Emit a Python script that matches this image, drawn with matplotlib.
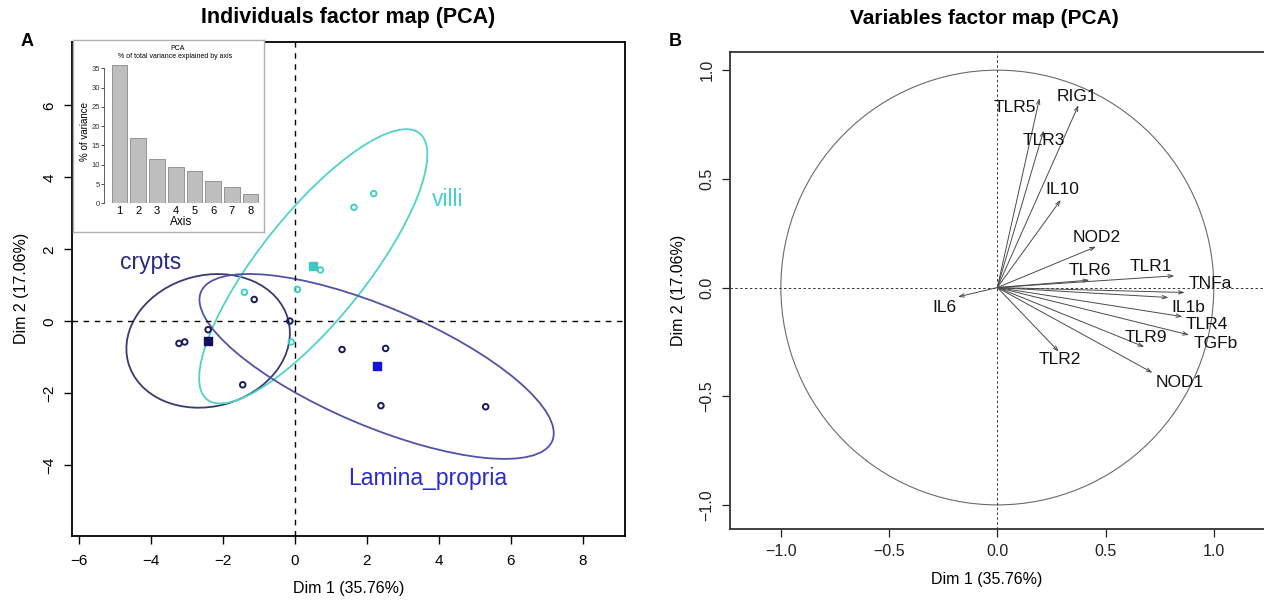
import matplotlib
matplotlib.use('Agg')
import matplotlib.pyplot as plt
from matplotlib.patches import Ellipse, Circle
import numpy as np

plt.rcParams['font.family'] = ['Liberation Sans', 'DejaVu Sans']

# ---------------- data: individuals factor map ----------------
crypts_x = [-3.22, -3.06, -2.41, -1.13, -1.45]
crypts_y = [-0.61, -0.57, -0.23, 0.61, -1.76]
villi_x = [-1.40, 0.07, -0.10, 0.71, 2.19, 1.64]
villi_y = [0.81, 0.89, -0.57, 1.43, 3.55, 3.17]
lamina_x = [-0.14, 1.31, 2.52, 2.39, 5.30]
lamina_y = [0.01, -0.78, -0.75, -2.34, -2.37]
group_names = ['crypts', 'villi', 'Lamina_propria']
centroid_x = [-2.41, 0.51, 2.27]
centroid_y = [-0.54, 1.53, -1.25]
ellipse_width = [4.6, 9.46, 10.6]
ellipse_height = [3.64, 2.96, 3.3]
ellipse_angle = [15, 51.4, -23]

# ---------------- data: scree inset ----------------
scree_axis = [1, 2, 3, 4, 5, 6, 7, 8]
scree_pct = [35.76, 17.06, 11.5, 9.4, 8.3, 5.9, 4.2, 2.3]

# ---------------- data: variables factor map ----------------
var_names = ['TLR5', 'RIG1', 'TLR3', 'IL10', 'NOD2', 'TLR6', 'TLR1', 'TNFa',
             'IL1b', 'TLR4', 'TGFb', 'TLR9', 'NOD1', 'TLR2', 'IL6']
var_dim1 = [0.195, 0.375, 0.214, 0.293, 0.456, 0.425, 0.818, 0.866,
            0.791, 0.855, 0.886, 0.679, 0.717, 0.284, -0.182]
var_dim2 = [0.871, 0.839, 0.722, 0.403, 0.188, 0.034, 0.054, -0.023,
            -0.046, -0.134, -0.218, -0.273, -0.392, -0.295, -0.043]

# label placement (layout only)
var_label_pos = {
    'TLR5': (0.082, 0.826), 'RIG1': (0.370, 0.881), 'TLR3': (0.217, 0.676),
    'IL10': (0.300, 0.450), 'NOD2': (0.460, 0.229), 'TLR6': (0.427, 0.079),
    'TLR1': (0.708, 0.098), 'TNFa': (0.982, 0.017), 'IL1b': (0.882, -0.092),
    'TLR4': (0.970, -0.172), 'TGFb': (1.009, -0.259), 'TLR9': (0.687, -0.232),
    'NOD1': (0.845, -0.435), 'TLR2': (0.289, -0.333), 'IL6': (-0.244, -0.090),
}
group_label_pos = [(-4.0, 1.65), (4.24, 3.40), (3.68, -4.36)]

# colours
pt_col = ['#1c1c5c', '#40d0c6', '#1c1c5c']
cen_col = ['#10105e', '#40c8bc', '#1414d8']
ell_col = ['#3a3a6c', '#50d2c8', '#5252a6']
txt_col = ['#2a2a7e', '#48d1cc', '#2a2ad2']

W, H = 1264, 603
fig = plt.figure(figsize=(W / 100, H / 100), dpi=100)

def fx(px):
    return px / W

def fy(py):
    return 1 - py / H

# ================= Left panel =================
L, R, T, B = 71.7, 625, 41.7, 536
ax1 = fig.add_axes([fx(L), fy(B), fx(R) - fx(L), fy(T) - fy(B)])
ax1.set_xlim(-6.2, 9.17)
ax1.set_ylim(-5.96, 7.77)
ax1.axhline(0, color='black', ls=(0, (4, 4)), lw=1.0)
ax1.axvline(0, color='black', ls=(0, (4, 4)), lw=1.0)

groups_x = [crypts_x, villi_x, lamina_x]
groups_y = [crypts_y, villi_y, lamina_y]
for i in range(3):
    ax1.add_patch(Ellipse((centroid_x[i], centroid_y[i]), ellipse_width[i],
                          ellipse_height[i], angle=ellipse_angle[i], fill=False,
                          ec=ell_col[i], lw=1.3))
    ax1.scatter(groups_x[i], groups_y[i], s=16, facecolors='none',
                edgecolors=pt_col[i], linewidths=1.4, zorder=3)
    ax1.scatter([centroid_x[i]], [centroid_y[i]], s=36, marker='s',
                color=cen_col[i], zorder=3)
    ax1.text(group_label_pos[i][0], group_label_pos[i][1], group_names[i],
             color=txt_col[i], fontsize=16.5, ha='center', va='center')

ax1.set_xticks([-6, -4, -2, 0, 2, 4, 6, 8])
ax1.set_yticks([-4, -2, 0, 2, 4, 6])
ax1.tick_params(direction='out', length=6, width=1, labelsize=11, pad=5)
ax1.tick_params(axis='x', pad=7)
for sp in ax1.spines.values():
    sp.set_linewidth(1.3)
ax1.set_xticklabels(['\u22126', '\u22124', '\u22122', '0', '2', '4', '6', '8'])
ax1.set_yticklabels(['\u22124', '\u22122', '0', '2', '4', '6'], rotation=90, va='center')
ax1.set_xlabel('Dim 1 (35.76%)', fontsize=11.5, labelpad=9)
ax1.set_ylabel('Dim 2 (17.06%)', fontsize=11.5, labelpad=10)
fig.text(fx(348), fy(18), 'Individuals factor map (PCA)', fontsize=15.5,
         fontweight='bold', ha='center', va='center')
fig.text(fx(27), fy(42), 'A', fontsize=13, fontweight='bold', ha='center', va='center')

# inset background box
bg = fig.add_axes([fx(73), fy(232), fx(264) - fx(73), fy(40) - fy(232)], zorder=5)
bg.set_xticks([]); bg.set_yticks([])
bg.set_facecolor('white')
for sp in bg.spines.values():
    sp.set_color('#b0b0b0'); sp.set_linewidth(1.0)

ins = fig.add_axes([fx(104), fy(203.3), fx(258.9) - fx(104), fy(60.6) - fy(203.3)], zorder=6)
ins.patch.set_alpha(0)
ins.bar(scree_axis, scree_pct, width=0.84, color='#bebebe', edgecolor='#8a8a8a', lw=0.6)
ins.set_xlim(0.17, 8.45)
ins.set_ylim(0, 37)
for s in ['top', 'right', 'bottom']:
    ins.spines[s].set_visible(False)
ins.spines['left'].set_bounds(0, 35)
ins.spines['left'].set_linewidth(0.6)
ins.spines['left'].set_color('#444444')
ins.set_yticks([0, 5, 10, 15, 20, 25, 30, 35])
ins.tick_params(axis='y', length=2, width=0.6, labelsize=5.5, pad=1, colors='#333333')
ins.set_xticks(scree_axis)
ins.tick_params(axis='x', length=0, labelsize=8, pad=2)
ins.set_xlabel('Axis', fontsize=8.5, labelpad=0)
ins.set_ylabel('% of variance', fontsize=7, labelpad=1)
fig.text(fx(178), fy(49), 'PCA', fontsize=5, ha='center', va='center', zorder=7)
fig.text(fx(175), fy(56), '% of total variance explained by axis', fontsize=5,
         ha='center', va='center', zorder=7)

# ================= Right panel =================
L2, R2, T2, B2 = 730, 1264, 51.7, 528.8
ax2 = fig.add_axes([fx(L2), fy(B2), fx(R2) - fx(L2), fy(T2) - fy(B2)])
ax2.set_xlim(-1.235, 1.232)
ax2.set_ylim(-1.11, 1.085)
ax2.add_patch(Circle((0, 0), 1.0, fill=False, ec='#6a6a6a', lw=0.8))
ax2.axhline(0, color='#333333', ls=(0, (2.5, 2.5)), lw=0.7)
ax2.axvline(0, color='#333333', ls=(0, (2.5, 2.5)), lw=0.7)
for name, x, y in zip(var_names, var_dim1, var_dim2):
    ax2.annotate('', xy=(x, y), xytext=(0, 0),
                 arrowprops=dict(arrowstyle='->,head_length=0.35,head_width=0.12',
                                 color='#4a4a4a', lw=0.7, shrinkA=0, shrinkB=0))
    lx, ly = var_label_pos[name]
    ax2.text(lx, ly, name, fontsize=12.5, ha='center', va='center', color='#111111')
ax2.set_xticks([-1.0, -0.5, 0.0, 0.5, 1.0])
ax2.set_yticks([-1.0, -0.5, 0.0, 0.5, 1.0])
ax2.set_xticklabels(['\u22121.0', '\u22120.5', '0.0', '0.5', '1.0'])
ax2.set_yticklabels(['\u22121.0', '\u22120.5', '0.0', '0.5', '1.0'], rotation=90, va='center')
ax2.tick_params(direction='out', length=6, width=0.9, labelsize=11.5, pad=5, colors='#222222')
for sp in ax2.spines.values():
    sp.set_linewidth(1.3)
    sp.set_color('#333333')
ax2.spines['right'].set_visible(False)
ax2.set_xlabel('Dim 1 (35.76%)', fontsize=11.5, labelpad=10)
ax2.xaxis.set_label_coords((987 - L2) / (R2 - L2), -0.09)
ax2.set_ylabel('Dim 2 (17.06%)', fontsize=11.5, labelpad=10)
fig.text(fx(984), fy(18), 'Variables factor map (PCA)', fontsize=15,
         fontweight='bold', ha='center', va='center')
fig.text(fx(675), fy(42), 'B', fontsize=13, fontweight='bold', ha='center', va='center')

fig.savefig('out.png', dpi=100)
